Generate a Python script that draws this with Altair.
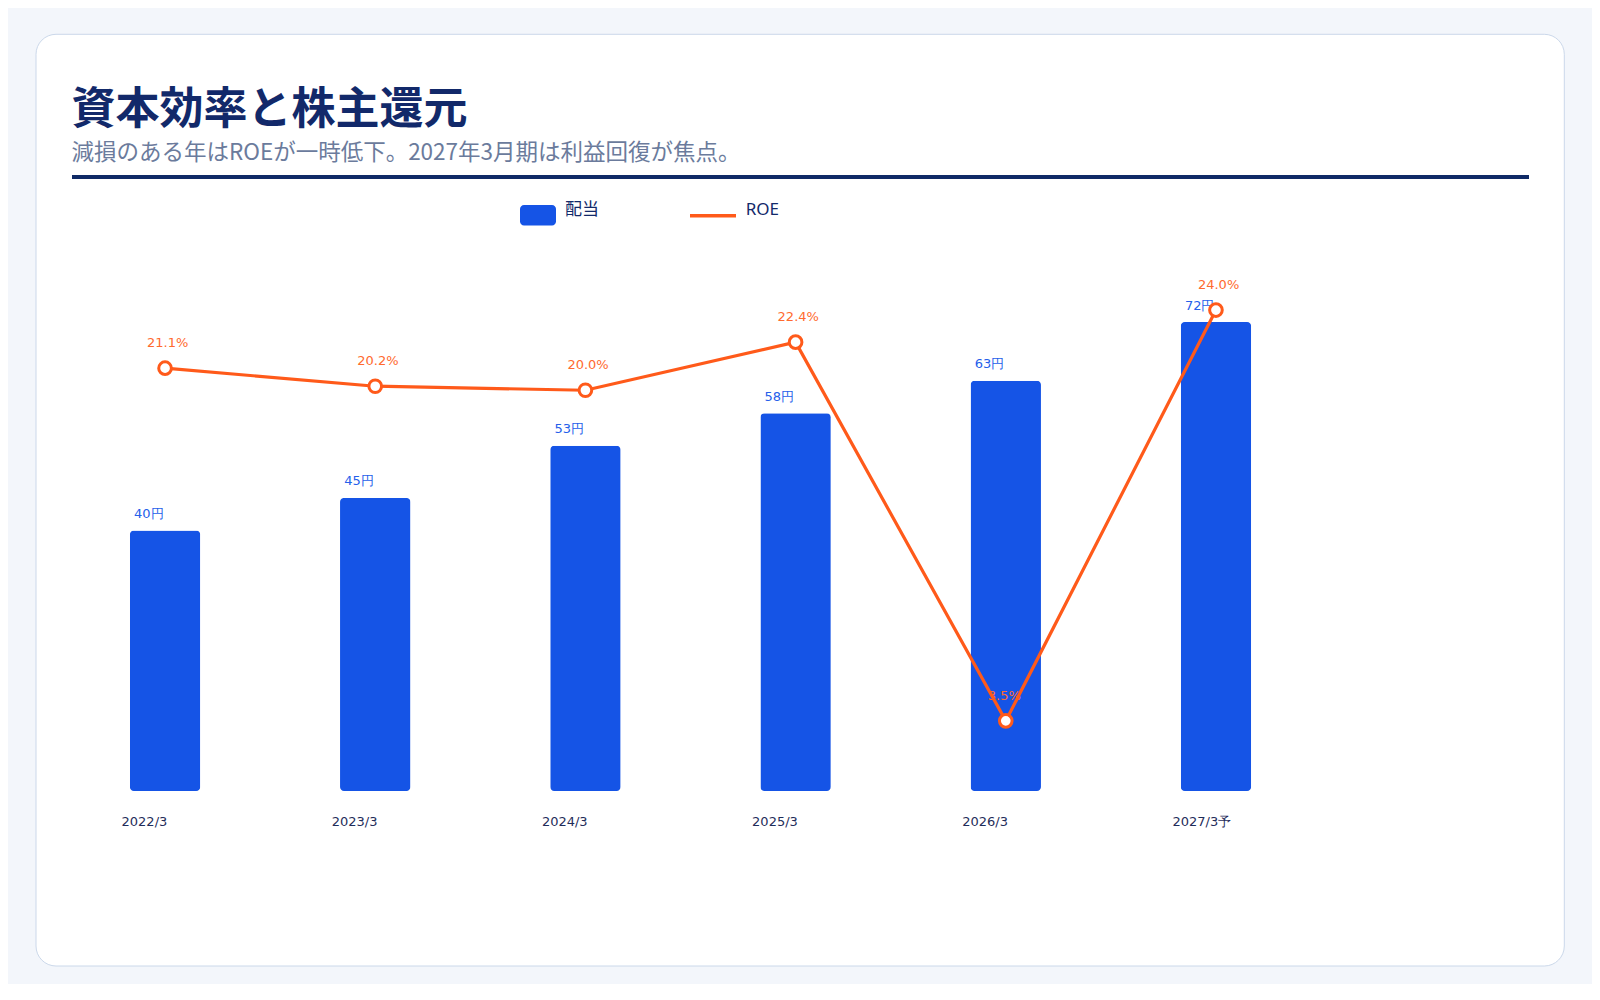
import altair as alt
import pandas as pd

# ---- data ----
periods = ["2022/3", "2023/3", "2024/3", "2025/3", "2026/3", "2027/3予"]
dividends = [40, 45, 53, 58, 63, 72]
roe = [21.1, 20.2, 20.0, 22.4, 3.5, 24.0]
dividend_labels = ["40円", "45円", "53円", "58円", "63円", "72円"]
roe_labels = ["21.1%", "20.2%", "20.0%", "22.4%", "3.5%", "24.0%"]

title_text = "資本効率と株主還元"
subtitle_text = "減損のある年はROEが一時低下。2027年3月期は利益回復が焦点。"
legend_names = ["配当", "ROE"]

# ---- style ----
BLUE = "#1554E6"
ORANGE = "#FF5A1A"
NAVY = "#12296A"
SUB = "#6B7B9C"
PAGE = "#F3F6FB"

df = pd.DataFrame({
    "period": periods,
    "dividend": dividends,
    "roe": roe,
    "dlabel": dividend_labels,
    "rlabel": roe_labels,
})

W, H = 1239, 521
xscale = alt.Scale(type="band", domain=periods, paddingInner=0.665, paddingOuter=0.28)
x_axis = alt.Axis(title=None, domain=False, ticks=False, grid=False,
                  labelAngle=0, labelAlign="left", labelOffset=-43.5,
                  labelBaseline="middle", labelPadding=30,
                  labelFont="DejaVu Sans", labelFontSize=13,
                  labelColor="#1F2D5A", zindex=2)
x_enc = alt.X("period:N", scale=xscale, axis=x_axis)
ydiv = alt.Scale(domain=[0, 80], nice=False, zero=True)
yroe = alt.Scale(domain=[0, 26], nice=False, zero=True)

one = pd.DataFrame({"t": [title_text]})

card = alt.Chart(one).mark_rect(
    fill="white", stroke="#CBD8EA", strokeWidth=1, cornerRadius=20
).encode(x=alt.value(-35), x2=alt.value(1493.3), y=alt.value(-235.7), y2=alt.value(696))

title = alt.Chart(pd.DataFrame({"t": [title_text]})).mark_text(
    align="left", baseline="alphabetic", font="Noto Sans CJK JP", fontSize=44,
    fontWeight="bold", color=NAVY
).encode(x=alt.value(0.4), y=alt.value(-146.5), text="t:N")

subtitle = alt.Chart(pd.DataFrame({"t": [subtitle_text]})).mark_text(
    align="left", baseline="alphabetic", font="Noto Sans CJK JP", fontSize=22.5,
    color=SUB
).encode(x=alt.value(0.4), y=alt.value(-110), text="t:N")

rule = alt.Chart(one).mark_rect(fill="#0F2A66").encode(
    x=alt.value(1), x2=alt.value(1458), y=alt.value(-95), y2=alt.value(-91))

leg_bar = alt.Chart(one).mark_rect(fill=BLUE, cornerRadius=4).encode(
    x=alt.value(449), x2=alt.value(485), y=alt.value(-65), y2=alt.value(-44.5))
leg_bar_txt = alt.Chart(pd.DataFrame({"t": [legend_names[0]]})).mark_text(
    align="left", baseline="alphabetic", font="Noto Sans CJK JP", fontSize=17, color=NAVY
).encode(x=alt.value(494), y=alt.value(-55), text="t:N")
leg_line = alt.Chart(one).mark_rule(color=ORANGE, strokeWidth=3.5).encode(
    x=alt.value(619), x2=alt.value(665), y=alt.value(-54.3))
leg_line_txt = alt.Chart(pd.DataFrame({"t": [legend_names[1]]})).mark_text(
    align="left", baseline="alphabetic", font="Noto Sans", fontSize=17, color=NAVY
).encode(x=alt.value(674.7), y=alt.value(-55), text="t:N")

base = alt.Chart(df)

bars = base.mark_bar(color=BLUE, cornerRadius=4).encode(
    x=x_enc, y=alt.Y("dividend:Q", scale=ydiv, axis=None))

bar_labels = base.mark_text(
    align="left", baseline="middle", dx=-31, dy=-16.5, font="DejaVu Sans",
    fontSize=13, color="#2560EA"
).encode(x=x_enc, y=alt.Y("dividend:Q", scale=ydiv, axis=None), text="dlabel:N")

roe_text = base.mark_text(
    align="left", baseline="middle", dx=-18, dy=-25, font="DejaVu Sans",
    fontSize=13, color="#FF6A2E"
).encode(x=x_enc, y=alt.Y("roe:Q", scale=yroe, axis=None), text="rlabel:N")

line = base.mark_line(color=ORANGE, strokeWidth=3.2).encode(
    x=x_enc, y=alt.Y("roe:Q", scale=yroe, axis=None))

points = base.mark_point(shape="circle", filled=False, fill="white", fillOpacity=1,
                         stroke=ORANGE, strokeWidth=3, size=160, opacity=1).encode(
    x=x_enc, y=alt.Y("roe:Q", scale=yroe, axis=None))

chart = alt.layer(
    card, title, subtitle, rule, leg_bar, leg_bar_txt, leg_line, leg_line_txt,
    bars, bar_labels, roe_text, line, points
).resolve_scale(y="independent").properties(
    width=W, height=H,
    autosize=alt.AutoSizeParams(type="none"),
    padding={"left": 63, "top": 262, "right": 282, "bottom": 193},
    background=PAGE,
).configure_view(stroke=None)

chart.save("out.html", embed_options={"renderer": "svg", "actions": False})
